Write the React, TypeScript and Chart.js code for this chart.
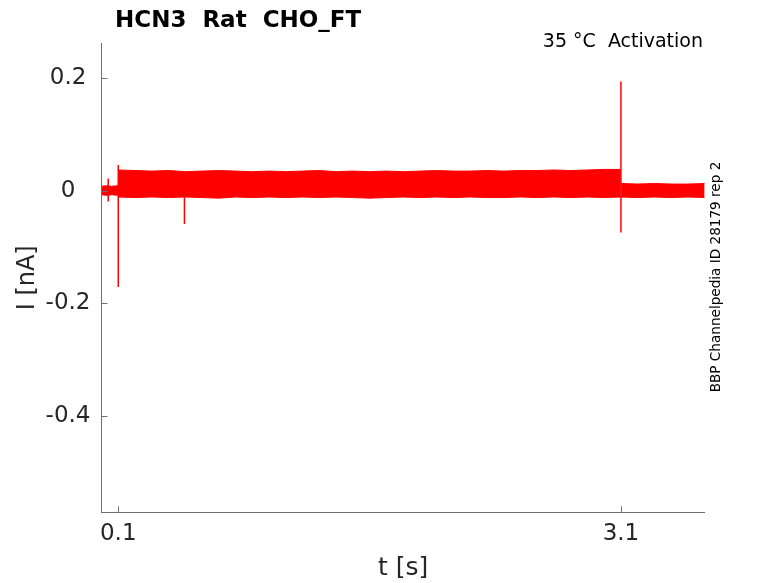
import React, { useEffect, useRef } from "react";
import { Chart, registerables } from "chart.js";

Chart.register(...registerables);

// ---- data ----
const preTime = [0, 0.03, 0.06, 0.099];
const preUpper = [0.008, 0.009, 0.008, 0.009];
const preLower = [-0.007, -0.008, -0.007, -0.008];

const mainTime = [
  0.101, 0.2, 0.3, 0.4, 0.5, 0.6, 0.7, 0.8, 0.9, 1.0, 1.1, 1.2, 1.3, 1.4, 1.5, 1.6,
  1.7, 1.8, 1.9, 2.0, 2.1, 2.2, 2.3, 2.4, 2.5, 2.6, 2.7, 2.8, 2.9, 3.0, 3.099,
];
const mainUpper = [
  0.037, 0.036, 0.035, 0.036, 0.034, 0.035, 0.036, 0.035, 0.034, 0.035, 0.034, 0.035,
  0.036, 0.034, 0.035, 0.034, 0.035, 0.034, 0.035, 0.036, 0.035, 0.035, 0.036, 0.035,
  0.036, 0.036, 0.037, 0.036, 0.037, 0.038, 0.038,
];
const mainLower = [
  -0.011, -0.012, -0.011, -0.012, -0.011, -0.012, -0.013, -0.011, -0.012, -0.011, -0.012,
  -0.011, -0.012, -0.011, -0.012, -0.013, -0.012, -0.011, -0.012, -0.011, -0.012, -0.011,
  -0.012, -0.012, -0.011, -0.012, -0.011, -0.012, -0.011, -0.012, -0.011,
];

const postTime = [3.101, 3.2, 3.3, 3.4, 3.5, 3.6];
const postUpper = [0.013, 0.012, 0.013, 0.012, 0.012, 0.013];
const postLower = [-0.011, -0.012, -0.011, -0.012, -0.011, -0.012];

const spikeTime = [0.04, 0.1, 0.495, 3.1];
const spikeTop = [0.022, 0.046, 0.0, 0.194];
const spikeBottom = [-0.019, -0.171, -0.059, -0.074];

const xTicks = [0.1, 3.1];
const yTicks = [-0.4, -0.2, 0, 0.2];

const titleText = "HCN3  Rat  CHO_FT";
const noteText = "35 \u00B0C  Activation";
const sideText = "BBP Channelpedia ID 28179 rep 2";
const xLabel = "t [s]";
const yLabel = "I [nA]";

// ---- styles ----
const RED = "#ff0000";
const AXIS = "#707070";
const TEXT = "#262626";
const FONT = '"DejaVu Sans", sans-serif';

const pts = (t: number[], v: number[]) => t.map((x, i) => ({ x, y: v[i] }));

function spikeData() {
  const out: { x: number; y: number | null }[] = [];
  spikeTime.forEach((t, i) => {
    out.push({ x: t, y: spikeTop[i] });
    out.push({ x: t, y: spikeBottom[i] });
    out.push({ x: t, y: null });
  });
  return out;
}

const decorPlugin = {
  id: "decor",
  afterDraw(chart: any) {
    const ctx = chart.ctx as CanvasRenderingContext2D;
    const xs = chart.scales.x;
    const ys = chart.scales.y;
    const area = chart.chartArea;
    ctx.save();
    // inward ticks
    ctx.strokeStyle = AXIS;
    ctx.lineWidth = 1;
    ctx.beginPath();
    xTicks.forEach((v) => {
      const px = Math.round(xs.getPixelForValue(v)) + 0.5;
      ctx.moveTo(px, area.bottom);
      ctx.lineTo(px, area.bottom - 6);
    });
    yTicks.forEach((v) => {
      const py = Math.round(ys.getPixelForValue(v)) + 0.5;
      ctx.moveTo(area.left, py);
      ctx.lineTo(area.left + 6, py);
    });
    ctx.stroke();

    // title
    ctx.fillStyle = "#000";
    ctx.font = `bold 23px ${FONT}`;
    ctx.textAlign = "left";
    ctx.textBaseline = "alphabetic";
    ctx.fillText(titleText, 115, 27);

    // note top-right
    ctx.font = `19px ${FONT}`;
    ctx.textAlign = "right";
    ctx.fillText(noteText, 703, 47);

    // axis labels
    ctx.fillStyle = TEXT;
    ctx.font = `25px ${FONT}`;
    ctx.textAlign = "center";
    ctx.textBaseline = "middle";
    ctx.fillText(xLabel, (area.left + area.right) / 2, 568);

    ctx.save();
    ctx.translate(28, (area.top + area.bottom) / 2);
    ctx.rotate(-Math.PI / 2);
    ctx.font = `24px ${FONT}`;
    ctx.fillText(yLabel, 0, 0);
    ctx.restore();

    // side text
    ctx.save();
    ctx.fillStyle = "#000";
    ctx.translate(716, 277);
    ctx.rotate(-Math.PI / 2);
    ctx.font = `13.6px ${FONT}`;
    ctx.textAlign = "center";
    ctx.textBaseline = "middle";
    ctx.fillText(sideText, 0, 0);
    ctx.restore();

    ctx.restore();
  },
};

export default function App() {
  const ref = useRef<HTMLCanvasElement>(null);

  useEffect(() => {
    document.body.style.margin = "0";
    const canvas = ref.current!;
    const band = (t: number[], up: number[], lo: number[]) => [
      {
        data: pts(t, up),
        borderColor: RED,
        backgroundColor: RED,
        borderWidth: 1,
        pointRadius: 0,
        fill: "+1",
      },
      {
        data: pts(t, lo),
        borderColor: RED,
        backgroundColor: RED,
        borderWidth: 1,
        pointRadius: 0,
        fill: false,
      },
    ];
    const chart = new Chart(canvas, {
      type: "line",
      data: {
        datasets: [
          ...band(preTime, preUpper, preLower),
          ...band(mainTime, mainUpper, mainLower),
          ...band(postTime, postUpper, postLower),
          {
            data: spikeData(),
            borderColor: RED,
            borderWidth: 1.5,
            pointRadius: 0,
            fill: false,
            spanGaps: false,
          },
        ] as any,
      },
      options: {
        animation: false,
        responsive: false,
        devicePixelRatio: 1,
        layout: { padding: { left: 0, top: 43.3, right: 73.3, bottom: 0 } },
        plugins: {
          legend: { display: false },
          tooltip: { enabled: false },
          title: { display: false },
        },
        elements: { line: { tension: 0 }, point: { radius: 0 } },
        scales: {
          x: {
            type: "linear",
            min: 0,
            max: 3.6,
            afterFit: (s: any) => {
              s.height = 70.7;
            },
            afterBuildTicks: (s: any) => {
              s.ticks = xTicks.map((v) => ({ value: v }));
            },
            grid: { display: false, drawTicks: false, tickLength: 0 },
            border: { display: true, color: AXIS, width: 1 },
            ticks: {
              font: { family: FONT, size: 23 },
              color: TEXT,
              padding: 7.6,
              autoSkip: false,
              maxRotation: 0,
              callback: (v: any) => Number(v).toFixed(1),
            },
          },
          y: {
            type: "linear",
            min: -0.571,
            max: 0.262,
            afterFit: (s: any) => {
              s.width = 101.5;
            },
            afterBuildTicks: (s: any) => {
              s.ticks = yTicks.map((v) => ({ value: v }));
            },
            grid: { display: false, drawTicks: false, tickLength: 0 },
            border: { display: true, color: AXIS, width: 1 },
            ticks: {
              font: { family: FONT, size: 23 },
              color: TEXT,
              padding: 11,
              crossAlign: "center",
              autoSkip: false,
              callback: (v: any) => (Number(v) === 0 ? "0" : Number(v).toFixed(1)),
            },
          },
        },
      } as any,
      plugins: [decorPlugin],
    });
    return () => chart.destroy();
  }, []);

  return (
    <div style={{ position: "absolute", left: 0, top: 0, width: 778, height: 583, background: "#fff" }}>
      <canvas ref={ref} width={778} height={583} style={{ display: "block" }} />
    </div>
  );
}
